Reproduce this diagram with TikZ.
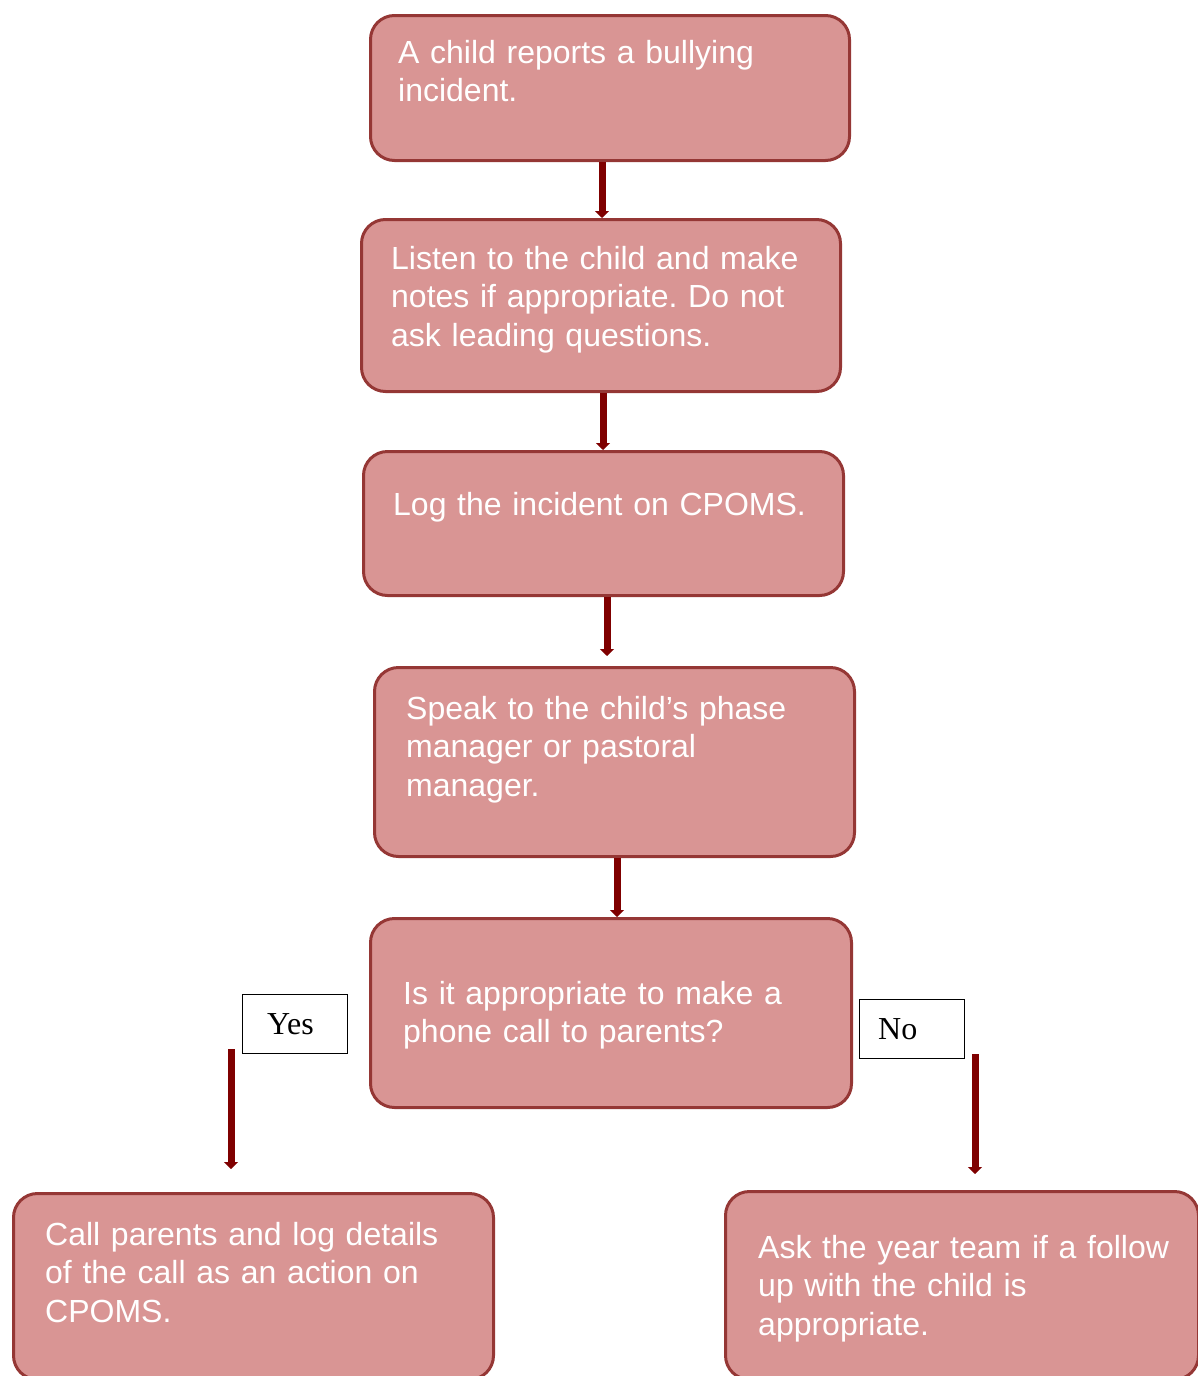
\documentclass[tikz,border=0pt]{standalone}
\usepackage{fontspec}
\setmainfont{Liberation Sans}
\newfontfamily\labelfont{Liberation Serif}
\usetikzlibrary{arrows.meta}
\definecolor{boxfill}{HTML}{D99594}
\definecolor{boxline}{HTML}{953735}
\definecolor{arrowred}{HTML}{7F0000}
\tikzset{
  stepbox/.style={draw=boxline, line width=3pt, fill=boxfill, rounded corners=24pt, inner sep=0pt, anchor=north west},
  steptext/.style={text=white, font=\fontsize{32}{38.5}\selectfont, align=left, text width=470pt, inner sep=0pt, anchor=base west},
  conn/.style={draw=arrowred, line width=7pt, -{Triangle[length=7pt,width=14pt]}},
  answer/.style={draw=black, line width=1.2pt, fill=white, inner sep=0pt, anchor=north west},
  answertext/.style={font=\labelfont\fontsize{32}{36}\selectfont, inner sep=0pt, anchor=base west}
}
\begin{document}
\frenchspacing
\begin{tikzpicture}[x=1pt,y=-1pt]
\useasboundingbox (0,0) rectangle (1198,1376);
\clip (0,0) rectangle (1198,1376);
% boxes
\node[stepbox, minimum width=479pt, minimum height=145pt] (b1) at (369,14) {};
\node[stepbox, minimum width=479pt, minimum height=172pt] (b2) at (360,218) {};
\node[stepbox, minimum width=480pt, minimum height=144pt] (b3) at (362,450) {};
\node[stepbox, minimum width=480pt, minimum height=189pt] (b4) at (373,666) {};
\node[stepbox, minimum width=481pt, minimum height=189pt] (b5) at (369,917) {};
\node[stepbox, minimum width=480pt, minimum height=186pt] (b6) at (12,1192) {};
\node[stepbox, minimum width=473pt, minimum height=188pt] (b7) at (724,1190) {};
% texts
\node[steptext] (t1) at (398,63) {A child reports a bullying\\incident.};
\node[steptext] (t2) at (391,269) {Listen to the child and make\\notes if appropriate. Do not\\ask leading questions.};
\node[steptext] (t3) at (393,515) {Log the incident on CPOMS.};
\node[steptext] (t4) at (406,719) {Speak to the child's phase\\manager or pastoral\\manager.};
\node[steptext] (t5) at (403,1004) {Is it appropriate to make a\\phone call to parents?};
\node[steptext] (t6) at (45,1245) {Call parents and log details\\of the call as an action on\\CPOMS.};
\node[steptext] (t7) at (758,1258) {Ask the year team if a follow\\up with the child is\\appropriate.};
% connectors
\draw[conn] (b1.south -| 602,0) -- (b2.north -| 602,0);
\draw[conn] (b2.south -| 603,0) -- (b3.north -| 603,0);
\coordinate (a3end) at (607,656);
\draw[conn] (b3.south -| a3end) -- (a3end);
\draw[conn] (b4.south -| 617,0) -- (b5.north -| 617,0);
% answers
\node[answer, minimum width=105pt, minimum height=59pt] (yes) at (242,994) {};
\node[answertext] (yest) at (267,1034) {Yes};
\node[answer, minimum width=105pt, minimum height=59pt] (no) at (859,999) {};
\node[answertext] (not) at (878,1039) {No};
\coordinate (ystart) at (231,1049);
\coordinate (yend) at (231,1169);
\coordinate (nstart) at (975,1054);
\coordinate (nend) at (975,1174);
\draw[conn] (ystart) -- (yend);
\draw[conn] (nstart) -- (nend);
\end{tikzpicture}
\end{document}
